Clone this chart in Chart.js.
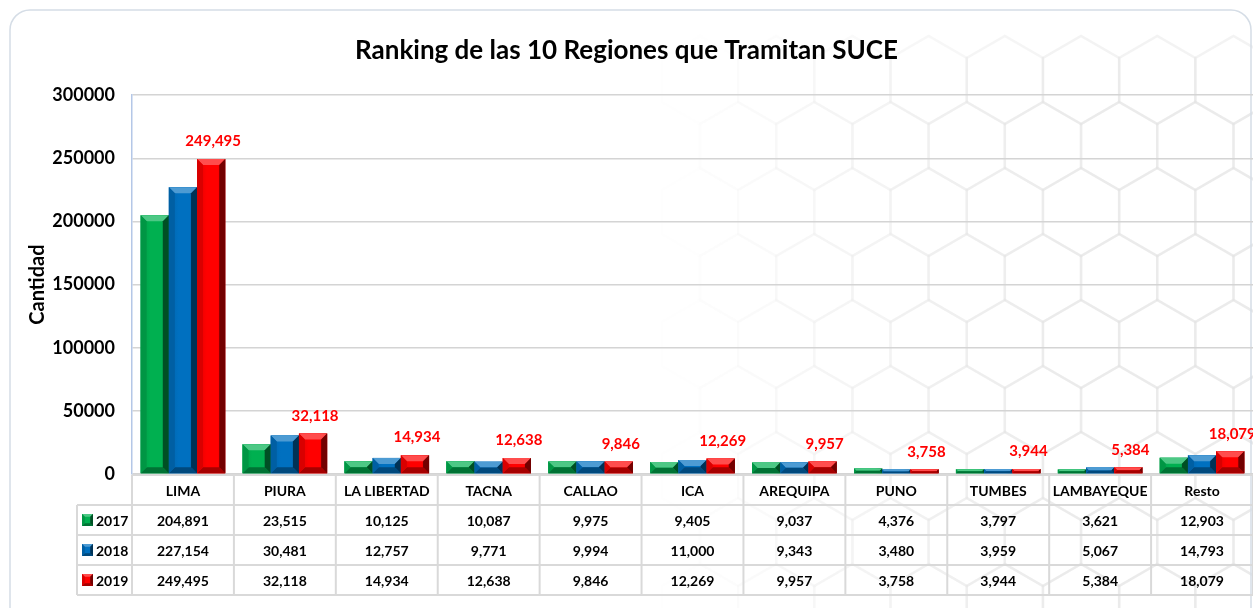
<!DOCTYPE html>
<html>
<head>
<meta charset="utf-8">
<script src="https://cdn.jsdelivr.net/npm/chart.js@4.4.0/dist/chart.umd.min.js"></script>
<style>
    body { margin: 0; background: #ffffff; }
    #wrap { position: relative; width: 1253px; height: 608px; }
</style>
</head>
<body>
<div id="wrap"><canvas id="rankingChart"></canvas></div>
<script>
// datos del ranking
var regiones = ['LIMA', 'PIURA', 'LA LIBERTAD', 'TACNA', 'CALLAO', 'ICA', 'AREQUIPA', 'PUNO', 'TUMBES', 'LAMBAYEQUE', 'Resto'];
var anios = ['2017', '2018', '2019'];
var valores2017 = [204891, 23515, 10125, 10087, 9975, 9405, 9037, 4376, 3797, 3621, 12903];
var valores2018 = [227154, 30481, 12757, 9771, 9994, 11000, 9343, 3480, 3959, 5067, 14793];
var valores2019 = [249495, 32118, 14934, 12638, 9846, 12269, 9957, 3758, 3944, 5384, 18079];
var colores = ['#00b050', '#0070c0', '#ff0000'];
var yMax = 300000;
var yStep = 50000;

var series = [valores2017, valores2018, valores2019];
var FONT = 'Lato, "Open Sans", sans-serif';

function fmt(v) {
    return v.toLocaleString('en-US');
}

function shade(hex, amt) {
    var n = parseInt(hex.slice(1), 16);
    var r = (n >> 16) & 255, g = (n >> 8) & 255, b = n & 255;
    function f(c) {
        if (amt > 0) return Math.round(c + (255 - c) * amt);
        return Math.round(c * (1 + amt));
    }
    return 'rgb(' + f(r) + ',' + f(g) + ',' + f(b) + ')';
}

// dibuja el efecto biselado sobre un rectangulo
function bevel(ctx, left, top, w, h, color) {
    var b = Math.min(6, h / 2, w / 4);
    ctx.save();
    // cara principal con degradado
    var grad = ctx.createLinearGradient(left, 0, left + w, 0);
    grad.addColorStop(0, shade(color, -0.1));
    grad.addColorStop(0.35, color);
    grad.addColorStop(0.75, color);
    grad.addColorStop(1, shade(color, -0.45));
    ctx.fillStyle = grad;
    ctx.fillRect(left, top, w, h);
    // bisel superior
    ctx.fillStyle = shade(color, 0.3);
    ctx.beginPath();
    ctx.moveTo(left, top);
    ctx.lineTo(left + w, top);
    ctx.lineTo(left + w - b, top + b);
    ctx.lineTo(left + b, top + b);
    ctx.closePath();
    ctx.fill();
    // bisel derecho
    ctx.fillStyle = shade(color, -0.55);
    ctx.beginPath();
    ctx.moveTo(left + w, top);
    ctx.lineTo(left + w, top + h);
    ctx.lineTo(left + w - b, top + h - b);
    ctx.lineTo(left + w - b, top + b);
    ctx.closePath();
    ctx.fill();
    // bisel inferior
    ctx.fillStyle = shade(color, -0.35);
    ctx.beginPath();
    ctx.moveTo(left, top + h);
    ctx.lineTo(left + w, top + h);
    ctx.lineTo(left + w - b, top + h - b);
    ctx.lineTo(left + b, top + h - b);
    ctx.closePath();
    ctx.fill();
    // bisel izquierdo
    ctx.fillStyle = shade(color, -0.15);
    ctx.beginPath();
    ctx.moveTo(left, top);
    ctx.lineTo(left + b, top + b);
    ctx.lineTo(left + b, top + h - b);
    ctx.lineTo(left, top + h);
    ctx.closePath();
    ctx.fill();
    ctx.restore();
}

var fondoPlugin = {
    id: 'fondo',
    beforeDraw: function (chart) {
        var ctx = chart.ctx;
        ctx.save();
        ctx.fillStyle = '#ffffff';
        ctx.fillRect(0, 0, chart.width, chart.height);
        // patron de hexagonos tenue
        var r = 44;
        var dx = r * Math.sqrt(3);
        for (var row = 0; row < 9; row++) {
            for (var col = 0; col < 9; col++) {
                var cx = 700 + col * dx + (row % 2 ? dx / 2 : 0);
                var cy = 80 + row * r * 1.5;
                var a = Math.max(0, Math.min(1, (cx - 650) / 450)) * 0.35;
                if (a <= 0) continue;
                ctx.strokeStyle = 'rgba(220,220,220,' + a + ')';
                ctx.lineWidth = 2.5;
                ctx.beginPath();
                for (var k = 0; k < 6; k++) {
                    var ang = Math.PI / 3 * k + Math.PI / 6;
                    var px = cx + r * Math.cos(ang), py = cy + r * Math.sin(ang);
                    if (k === 0) ctx.moveTo(px, py); else ctx.lineTo(px, py);
                }
                ctx.closePath();
                ctx.stroke();
            }
        }
        // borde de la tarjeta
        ctx.strokeStyle = '#d5dde6';
        ctx.lineWidth = 1.5;
        ctx.beginPath();
        ctx.moveTo(10, 640);
        ctx.lineTo(10, 30);
        ctx.arcTo(10, 10, 30, 10, 20);
        ctx.lineTo(1230, 10);
        ctx.arcTo(1251, 10, 1251, 30, 20);
        ctx.lineTo(1251, 640);
        ctx.stroke();
        ctx.restore();
    }
};

var biselPlugin = {
    id: 'bisel',
    afterDatasetsDraw: function (chart) {
        var ctx = chart.ctx;
        chart.data.datasets.forEach(function (ds, di) {
            var meta = chart.getDatasetMeta(di);
            meta.data.forEach(function (bar) {
                var w = bar.width;
                var h = bar.base - bar.y;
                if (h < 1) return;
                bevel(ctx, bar.x - w / 2, bar.y, w, h, ds.backgroundColor);
            });
        });
        // etiquetas de 2019
        var meta19 = chart.getDatasetMeta(2);
        ctx.save();
        ctx.fillStyle = '#ff0000';
        ctx.font = 'bold 15px ' + FONT;
        ctx.textAlign = 'center';
        ctx.textBaseline = 'bottom';
        meta19.data.forEach(function (bar, i) {
            ctx.fillText(fmt(valores2019[i]), bar.x + 2, bar.y - 10);
        });
        ctx.restore();
    }
};

var tablaPlugin = {
    id: 'tabla',
    afterDraw: function (chart) {
        var ctx = chart.ctx;
        var xs = chart.scales.x;
        var area = chart.chartArea;
        var colW = area.width / regiones.length;
        var top = area.bottom + 1;
        var rowH = 30;
        var legLeft = 77;
        var right = area.right;
        ctx.save();
        ctx.strokeStyle = '#d9d9d9';
        ctx.lineWidth = 2;
        // lineas horizontales
        ctx.beginPath();
        ctx.moveTo(area.left, top);
        ctx.lineTo(right, top);
        for (var r = 1; r <= 4; r++) {
            ctx.moveTo(legLeft, top + r * rowH);
            ctx.lineTo(right, top + r * rowH);
        }
        // lineas verticales
        ctx.moveTo(legLeft, top + rowH);
        ctx.lineTo(legLeft, top + 4 * rowH);
        for (var c = 0; c <= regiones.length; c++) {
            var lx = area.left + c * colW;
            ctx.moveTo(lx, top);
            ctx.lineTo(lx, top + 4 * rowH);
        }
        ctx.stroke();

        ctx.fillStyle = '#000000';
        ctx.textAlign = 'center';
        ctx.textBaseline = 'middle';
        ctx.font = 'bold 14px ' + FONT;
        regiones.forEach(function (reg, i) {
            var cx = xs.getPixelForValue(i);
            ctx.fillText(reg, cx, top + rowH / 2 + 1);
            series.forEach(function (vals, s) {
                ctx.fillText(fmt(vals[i]), cx, top + rowH * (s + 1) + rowH / 2 + 1);
            });
        });
        // leyenda de la tabla
        anios.forEach(function (anio, s) {
            var cy = top + rowH * (s + 1) + rowH / 2;
            bevel(ctx, 82, cy - 6, 11, 12, colores[s]);
            ctx.fillStyle = '#000000';
            ctx.textAlign = 'left';
            ctx.fillText(anio, 96, cy + 1);
        });
        ctx.restore();
    }
};

document.addEventListener('DOMContentLoaded', function () {
    var rankingChart = new Chart(document.getElementById('rankingChart'), {
        type: 'bar',
        data: {
            labels: regiones,
            datasets: [
                { label: anios[0], data: valores2017, backgroundColor: colores[0] },
                { label: anios[1], data: valores2018, backgroundColor: colores[1] },
                { label: anios[2], data: valores2019, backgroundColor: colores[2] }
            ]
        },
        options: {
            responsive: true,
            maintainAspectRatio: false,
            animation: false,
            categoryPercentage: 0.83,
            barPercentage: 1.0,
            layout: { padding: { left: 0, right: 0, top: 0, bottom: 134 } },
            plugins: {
                legend: { display: false },
                tooltip: { enabled: false },
                title: {
                    display: true,
                    text: 'Ranking de las 10 Regiones que Tramitan SUCE',
                    color: '#000000',
                    font: { family: FONT, size: 26, weight: 'bold' },
                    padding: { top: 35, bottom: 29 }
                }
            },
            scales: {
                x: {
                    display: false
                },
                y: {
                    min: 0,
                    max: yMax,
                    afterFit: function (scale) { scale.width = 132; },
                    ticks: {
                        stepSize: yStep,
                        padding: 17,
                        color: '#000000',
                        font: { family: FONT, size: 18, weight: 'bold' },
                        callback: function (v) { return String(v); }
                    },
                    grid: { color: '#d4d4d4', lineWidth: 1.5, drawTicks: false },
                    border: { display: true, color: '#b4c7e7', width: 1.5 },
                    title: {
                        display: true,
                        text: 'Cantidad',
                        color: '#000000',
                        font: { family: FONT, size: 20, weight: 'bold' },
                        padding: { top: 26, bottom: 0 }
                    }
                }
            }
        },
        plugins: [fondoPlugin, biselPlugin, tablaPlugin]
    });
});
</script>
</body>
</html>
